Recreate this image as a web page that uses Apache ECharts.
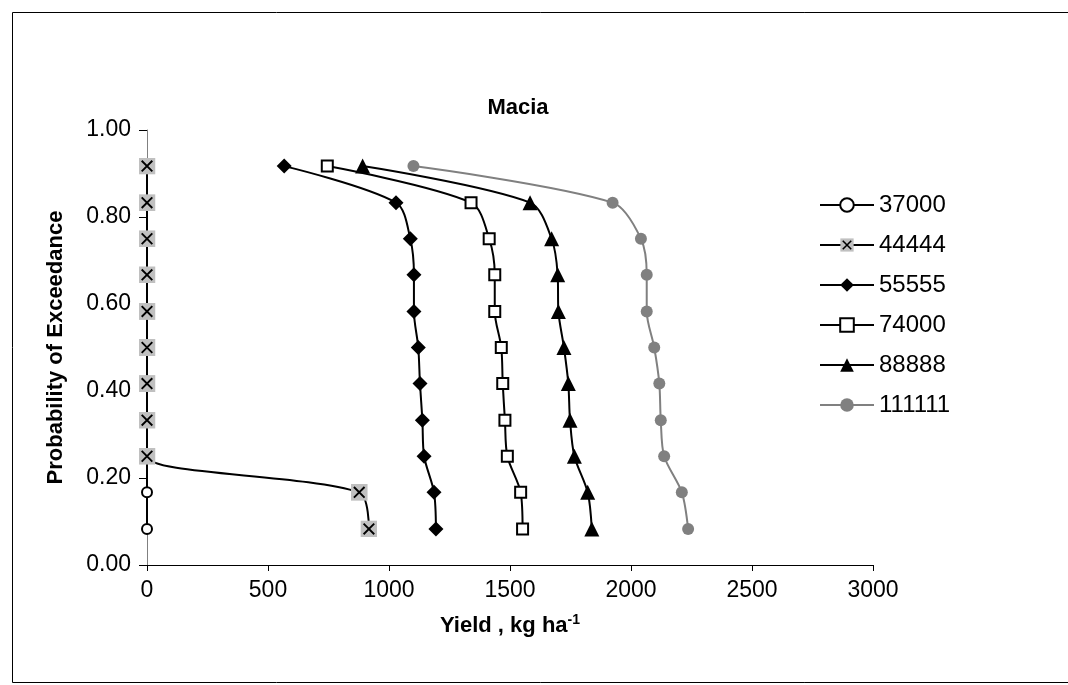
<!DOCTYPE html>
<html>
<head>
<meta charset="utf-8">
<script src="https://cdn.jsdelivr.net/npm/echarts@6/dist/echarts.min.js"></script>
<style>html,body{margin:0;padding:0;background:#fff}#c{width:1068px;height:685px}</style>
</head>
<body>
<div id="c"></div>
<script>
// Probability of exceedance (k/12), bottom to top
const prob = [0.083, 0.167, 0.25, 0.333, 0.417, 0.5, 0.583, 0.667, 0.75, 0.833, 0.917];
const seriesNames = ['37000', '44444', '55555', '74000', '88888', '111111'];
const y37000  = [0, 0, 0, 0, 0, 0, 0, 0, 0, 0, 0];
const y44444  = [917, 877, 0, 0, 0, 0, 0, 0, 0, 0, 0];
const y55555  = [1194, 1186, 1145, 1138, 1128, 1121, 1103, 1103, 1088, 1029, 567];
const y74000  = [1552, 1544, 1489, 1479, 1470, 1464, 1437, 1437, 1414, 1339, 745];
const y88888  = [1838, 1821, 1766, 1748, 1741, 1723, 1700, 1697, 1672, 1583, 891];
const y111111 = [2236, 2210, 2137, 2123, 2117, 2096, 2065, 2065, 2041, 1924, 1101];
const xTicks = [0, 500, 1000, 1500, 2000, 2500, 3000];
const yTicks = [0, 0.2, 0.4, 0.6, 0.8, 1.0];

const FONT = 'Liberation Sans, Arial, sans-serif';
const pairs = arr => arr.map((v, i) => [v, prob[i]]);

const xSquareSvg = 'data:image/svg+xml;utf8,' + encodeURIComponent(
  '<svg xmlns="http://www.w3.org/2000/svg" width="16" height="16" viewBox="0 0 16 16">' +
  '<rect x="0" y="0" width="16" height="16" fill="#c0c0c0"/>' +
  '<path d="M3 3 L13 13 M13 3 L3 13" stroke="#000" stroke-width="1.8"/></svg>');

const chart = echarts.init(document.getElementById('c'), null, {renderer: 'canvas'});
const base = {type: 'line', smooth: 0.3, lineStyle: {color: '#000', width: 2}, z: 2};
chart.setOption({
  animation: false,
  backgroundColor: '#fff',
  textStyle: {fontFamily: FONT},
  title: {
    text: 'Macia', left: 513, top: 92, textAlign: 'center',
    textStyle: {fontFamily: FONT, fontSize: 22, fontWeight: 'bold', color: '#000'}
  },
  graphic: [{
    type: 'rect', left: 10, top: 10, silent: true,
    shape: {width: 1080, height: 670},
    style: {fill: 'none', stroke: '#000', lineWidth: 1}
  }],
  legend: {
    orient: 'vertical', left: 814, top: 188, itemWidth: 54, itemHeight: 17, itemGap: 16,
    textStyle: {fontFamily: FONT, fontSize: 24, color: '#000'},
    data: seriesNames
  },
  grid: {left: 147, right: 195, top: 130, bottom: 120, containLabel: false},
  xAxis: {
    type: 'value', min: xTicks[0], max: xTicks[xTicks.length - 1], interval: 500,
    name: '{a|Yield , kg ha}{b|-1}', nameLocation: 'middle', nameGap: 48,
    nameTextStyle: {
      rich: {
        a: {fontFamily: FONT, fontSize: 22, fontWeight: 'bold', color: '#000'},
        b: {fontFamily: FONT, fontSize: 14, fontWeight: 'bold', color: '#000', padding: [0, 0, 12, 0]}
      }
    },
    axisLine: {onZero: false, lineStyle: {color: '#000', width: 1}},
    axisTick: {show: true, length: 6, lineStyle: {color: '#000'}},
    axisLabel: {fontFamily: FONT, fontSize: 23, color: '#000', margin: 14, formatter: v => String(v)},
    splitLine: {show: false}
  },
  yAxis: {
    type: 'value', min: yTicks[0], max: yTicks[yTicks.length - 1], interval: 0.2,
    name: 'Probability of Exceedance', nameLocation: 'middle', nameGap: 80, nameRotate: 90,
    nameTextStyle: {fontFamily: FONT, fontSize: 22, fontWeight: 'bold', color: '#000'},
    axisLine: {onZero: false, lineStyle: {color: '#808080', width: 1}},
    axisTick: {show: true, length: 8, lineStyle: {color: '#000'}},
    axisLabel: {fontFamily: FONT, fontSize: 23, color: '#000', margin: 16, formatter: v => v.toFixed(2)},
    splitLine: {show: false}
  },
  series: [
    Object.assign({}, base, {name: seriesNames[0], data: pairs(y37000), symbol: 'circle', symbolSize: 10,
      itemStyle: {color: '#fff', borderColor: '#000', borderWidth: 2}}),
    Object.assign({}, base, {name: seriesNames[1], data: pairs(y44444), symbol: 'image://' + xSquareSvg, symbolSize: 17,
      itemStyle: {color: '#c0c0c0'}, z: 3}),
    Object.assign({}, base, {name: seriesNames[2], data: pairs(y55555), symbol: 'diamond', symbolSize: 15,
      itemStyle: {color: '#000', borderColor: '#000', borderWidth: 0}}),
    Object.assign({}, base, {name: seriesNames[3], data: pairs(y74000), symbol: 'rect', symbolSize: 11,
      itemStyle: {color: '#fff', borderColor: '#000', borderWidth: 2}}),
    Object.assign({}, base, {name: seriesNames[4], data: pairs(y88888), symbol: 'triangle', symbolSize: 15,
      itemStyle: {color: '#000', borderWidth: 0}}),
    Object.assign({}, base, {name: seriesNames[5], data: pairs(y111111), symbol: 'circle', symbolSize: 12,
      lineStyle: {color: '#808080', width: 2}, itemStyle: {color: '#808080', borderWidth: 0}})
  ]
});
</script>
</body>
</html>
